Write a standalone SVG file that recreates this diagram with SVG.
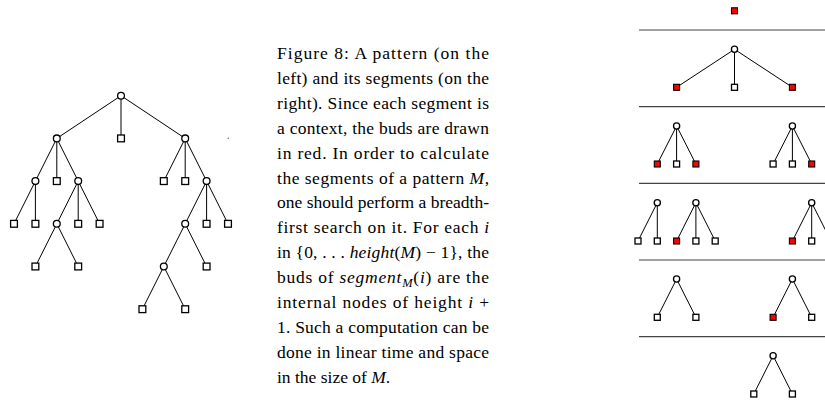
<svg xmlns="http://www.w3.org/2000/svg" width="825" height="402" viewBox="0 0 825 402">
<style>
.e{stroke:#000;stroke-width:1;fill:none}
.c{fill:#fff;stroke:#000;stroke-width:1.3}
.s{fill:#fff;stroke:#000;stroke-width:1.3}
.r{fill:#f00;stroke:#000;stroke-width:1.1}
.sep{stroke:#444;stroke-width:1.2}
.t{font-family:"Liberation Serif","Times New Roman",serif;font-size:17.5px;fill:#000}
.i{font-style:italic}
</style>
<rect width="825" height="402" fill="#fff"/>
<g id="connectors">
<path class="e" d="M121,95.7L56.8,138.4M121,95.7L121,138.4M121,95.7L185.2,138.4
M56.8,138.4L35.4,181.1M56.8,138.4L56.8,181.1M56.8,138.4L78.2,181.1
M185.2,138.4L163.8,181.1M185.2,138.4L185.2,181.1M185.2,138.4L206.6,181.1
M35.4,181.1L14,223.8M35.4,181.1L35.4,223.8
M78.2,181.1L56.8,223.8M78.2,181.1L78.2,223.8M78.2,181.1L99.6,223.8
M206.6,181.1L185.2,223.8M206.6,181.1L206.6,223.8M206.6,181.1L228,223.8
M56.8,223.8L35.4,266.5M56.8,223.8L78.2,266.5
M185.2,223.8L163.8,266.5M185.2,223.8L206.6,266.5
M163.8,266.5L142.4,309.2M163.8,266.5L185.2,309.2"/>
<path class="e" d="M734.5,49.3L676.6,87.3M734.5,49.3L734.5,87.3M734.5,49.3L792.4,87.3
M676.6,126L657.3,164M676.6,126L676.6,164M676.6,126L695.9,164
M792.4,126L773.1,164M792.4,126L792.4,164M792.4,126L811.7,164
M657.3,202.7L638,241M657.3,202.7L657.3,241
M695.9,202.7L676.6,241M695.9,202.7L695.9,241M695.9,202.7L715.2,241
M811.7,202.7L792.4,241M811.7,202.7L811.7,241M811.7,202.7L831,241
M676.6,279L657.3,317.3M676.6,279L695.9,317.3
M792.4,279L773.1,317.3M792.4,279L811.7,317.3
M773.1,355.7L753.8,394M773.1,355.7L792.4,394"/>
</g>
<g id="separators">
<line class="sep" x1="639" y1="30" x2="825" y2="30"/>
<line class="sep" x1="639" y1="106.7" x2="825" y2="106.7"/>
<line class="sep" x1="639" y1="183.3" x2="825" y2="183.3"/>
<line class="sep" x1="639" y1="260" x2="825" y2="260"/>
<line class="sep" x1="639" y1="336.7" x2="825" y2="336.7"/>
</g>
<g id="pattern">
<g id="p-root"><circle class="c" cx="121" cy="95.7" r="3.4"/></g>
<g id="p-a"><circle class="c" cx="56.8" cy="138.4" r="3.4"/></g>
<g id="p-b"><rect class="s" x="117.6" y="135" width="6.8" height="6.8"/></g>
<g id="p-c"><circle class="c" cx="185.2" cy="138.4" r="3.4"/></g>
<g id="p-a1"><circle class="c" cx="35.4" cy="181.1" r="3.4"/></g>
<g id="p-a2"><rect class="s" x="53.4" y="177.7" width="6.8" height="6.8"/></g>
<g id="p-a3"><circle class="c" cx="78.2" cy="181.1" r="3.4"/></g>
<g id="p-c1"><rect class="s" x="160.4" y="177.7" width="6.8" height="6.8"/></g>
<g id="p-c2"><rect class="s" x="181.8" y="177.7" width="6.8" height="6.8"/></g>
<g id="p-c3"><circle class="c" cx="206.6" cy="181.1" r="3.4"/></g>
<g id="p-a1a"><rect class="s" x="10.6" y="220.4" width="6.8" height="6.8"/></g>
<g id="p-a1b"><rect class="s" x="32" y="220.4" width="6.8" height="6.8"/></g>
<g id="p-a3a"><circle class="c" cx="56.8" cy="223.8" r="3.4"/></g>
<g id="p-a3b"><rect class="s" x="74.8" y="220.4" width="6.8" height="6.8"/></g>
<g id="p-a3c"><rect class="s" x="96.2" y="220.4" width="6.8" height="6.8"/></g>
<g id="p-c3a"><circle class="c" cx="185.2" cy="223.8" r="3.4"/></g>
<g id="p-c3b"><rect class="s" x="203.2" y="220.4" width="6.8" height="6.8"/></g>
<g id="p-c3c"><rect class="s" x="224.6" y="220.4" width="6.8" height="6.8"/></g>
<g id="p-a3a1"><rect class="s" x="32" y="263.1" width="6.8" height="6.8"/></g>
<g id="p-a3a2"><rect class="s" x="74.8" y="263.1" width="6.8" height="6.8"/></g>
<g id="p-c3a1"><circle class="c" cx="163.8" cy="266.5" r="3.4"/></g>
<g id="p-c3a2"><rect class="s" x="203.2" y="263.1" width="6.8" height="6.8"/></g>
<g id="p-c3a1a"><rect class="s" x="139" y="305.8" width="6.8" height="6.8"/></g>
<g id="p-c3a1b"><rect class="s" x="181.8" y="305.8" width="6.8" height="6.8"/></g>
</g>
<rect x="227.6" y="137.6" width="1.4" height="1.4" fill="#888"/>
<g id="segments">
<g id="s0-bud"><rect class="r" x="731.5" y="7.8" width="6" height="6"/></g>
<g id="s1-root"><circle class="c" cx="734.5" cy="49.3" r="3.1"/></g>
<g id="s1-l"><rect class="r" x="673.6" y="84.3" width="6" height="6"/></g>
<g id="s1-m"><rect class="s" x="731.5" y="84.3" width="6" height="6"/></g>
<g id="s1-r"><rect class="r" x="789.4" y="84.3" width="6" height="6"/></g>
<g id="s2a-root"><circle class="c" cx="676.6" cy="126" r="3.1"/></g>
<g id="s2a-1"><rect class="r" x="654.3" y="161" width="6" height="6"/></g>
<g id="s2a-2"><rect class="s" x="673.6" y="161" width="6" height="6"/></g>
<g id="s2a-3"><rect class="r" x="692.9" y="161" width="6" height="6"/></g>
<g id="s2b-root"><circle class="c" cx="792.4" cy="126" r="3.1"/></g>
<g id="s2b-1"><rect class="s" x="770.1" y="161" width="6" height="6"/></g>
<g id="s2b-2"><rect class="s" x="789.4" y="161" width="6" height="6"/></g>
<g id="s2b-3"><rect class="r" x="808.7" y="161" width="6" height="6"/></g>
<g id="s3a-root"><circle class="c" cx="657.3" cy="202.7" r="3.1"/></g>
<g id="s3a-1"><rect class="s" x="635" y="238" width="6" height="6"/></g>
<g id="s3a-2"><rect class="s" x="654.3" y="238" width="6" height="6"/></g>
<g id="s3b-root"><circle class="c" cx="695.9" cy="202.7" r="3.1"/></g>
<g id="s3b-1"><rect class="r" x="673.6" y="238" width="6" height="6"/></g>
<g id="s3b-2"><rect class="s" x="692.9" y="238" width="6" height="6"/></g>
<g id="s3b-3"><rect class="s" x="712.2" y="238" width="6" height="6"/></g>
<g id="s3c-root"><circle class="c" cx="811.7" cy="202.7" r="3.1"/></g>
<g id="s3c-1"><rect class="r" x="789.4" y="238" width="6" height="6"/></g>
<g id="s3c-2"><rect class="s" x="808.7" y="238" width="6" height="6"/></g>
<g id="s4a-root"><circle class="c" cx="676.6" cy="279" r="3.1"/></g>
<g id="s4a-1"><rect class="s" x="654.3" y="314.3" width="6" height="6"/></g>
<g id="s4a-2"><rect class="s" x="692.9" y="314.3" width="6" height="6"/></g>
<g id="s4b-root"><circle class="c" cx="792.4" cy="279" r="3.1"/></g>
<g id="s4b-1"><rect class="r" x="770.1" y="314.3" width="6" height="6"/></g>
<g id="s4b-2"><rect class="s" x="808.7" y="314.3" width="6" height="6"/></g>
<g id="s5-root"><circle class="c" cx="773.1" cy="355.7" r="3.1"/></g>
<g id="s5-1"><rect class="s" x="750.8" y="391" width="6" height="6"/></g>
<g id="s5-2"><rect class="s" x="789.4" y="391" width="6" height="6"/></g>
</g>
<g id="caption" class="t">
<text x="277" y="59" textLength="212" lengthAdjust="spacing">Figure 8: A pattern (on the</text>
<text x="277" y="83.9" textLength="212" lengthAdjust="spacing">left) and its segments (on the</text>
<text x="277" y="108.8" textLength="212" lengthAdjust="spacing">right). Since each segment is</text>
<text x="277" y="133.7" textLength="212" lengthAdjust="spacing">a context, the buds are drawn</text>
<text x="277" y="158.6" textLength="212" lengthAdjust="spacing">in red. In order to calculate</text>
<text x="277" y="183.5" textLength="212" lengthAdjust="spacing">the segments of a pattern <tspan class="i">M</tspan>,</text>
<text x="277" y="208.4" textLength="212" lengthAdjust="spacing">one should perform a breadth-</text>
<text x="277" y="233.3" textLength="212" lengthAdjust="spacing">first search on it. For each <tspan class="i">i</tspan></text>
<text x="277" y="258.2" textLength="212" lengthAdjust="spacing">in {0, . . . <tspan class="i">height</tspan>(<tspan class="i">M</tspan>) − 1}, the</text>
<text x="277" y="283.1" textLength="212" lengthAdjust="spacing">buds of <tspan class="i">segment</tspan><tspan class="i" font-size="12.5" dy="4">M</tspan><tspan dy="-4">(</tspan><tspan class="i">i</tspan>) are the</text>
<text x="277" y="308" textLength="212" lengthAdjust="spacing">internal nodes of height <tspan class="i">i</tspan> +</text>
<text x="277" y="332.9" textLength="212" lengthAdjust="spacing">1. Such a computation can be</text>
<text x="277" y="357.8" textLength="212" lengthAdjust="spacing">done in linear time and space</text>
<text x="277" y="382.7">in the size of <tspan class="i">M</tspan>.</text>
</g>
</svg>
